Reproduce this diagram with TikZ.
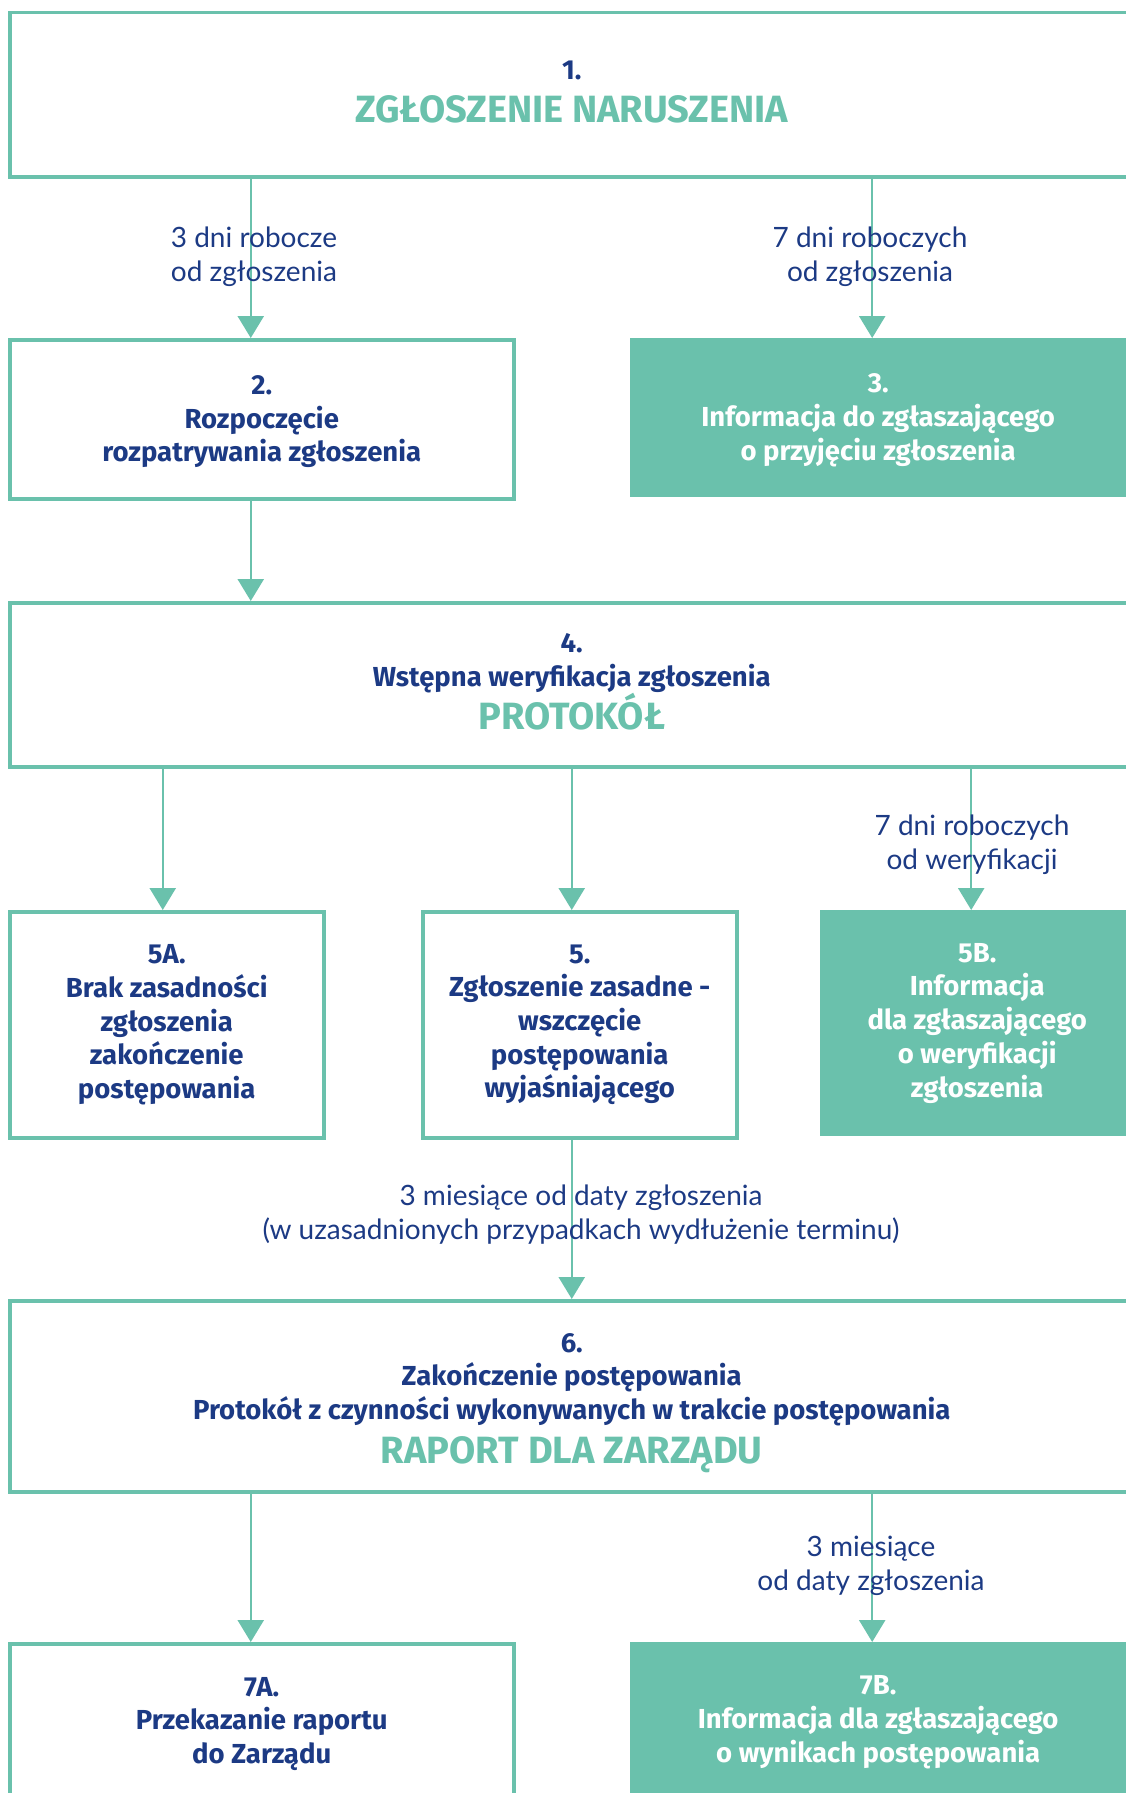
\documentclass[tikz,border=0pt]{standalone}
\usepackage{fontspec}
\setmainfont{Fira Sans}
\newfontfamily\lightf{Lato}
\usetikzlibrary{arrows.meta}
\definecolor{teal1}{HTML}{6AC1AC}
\definecolor{navy}{HTML}{1C3A84}
\newcommand{\nolsk}{\lineskiplimit=-100pt\relax}
\tikzset{
  boxbase/.style={anchor=north west,inner sep=0pt,align=center,
    font={\bfseries\fontsize{27.5}{33.7}\selectfont\nolsk}},
  outline/.style={boxbase,draw=teal1,line width=3.5pt,text=navy},
  filled/.style={boxbase,fill=teal1,text=white},
  arr/.style={draw=teal1,line width=2.5pt,-{Triangle[width=26pt,length=22pt]}},
  lbl/.style={text=navy,font=\lightf\fontsize{28}{34}\selectfont,align=center,inner sep=0pt}
}
\newcommand{\bigtitle}[1]{{\color{teal1}\fontsize{38}{40}\selectfont #1}}
\begin{document}
\begin{tikzpicture}[x=1pt,y=-1pt]
\useasboundingbox (0,0) rectangle (1126,1793);
\clip (0,0) rectangle (1126,1793);
% boxes
\node[outline,minimum width=1124pt,minimum height=164pt] (n1) at (8,11)
  {1.\\[10pt]\bigtitle{ZGŁOSZENIE NARUSZENIA}\rule[-6pt]{0pt}{0pt}};
\node[outline,minimum width=504pt,minimum height=159pt] (n2) at (8,338)
  {\rule{0pt}{24pt}2.\\Rozpoczęcie\\rozpatrywania zgłoszenia};
\node[filled,minimum width=496pt,minimum height=159pt] (n3) at (630,338)
  {\rule{0pt}{24pt}3.\\Informacja do zgłaszającego\\o przyjęciu zgłoszenia};
\node[outline,minimum width=1124pt,minimum height=164pt] (n4) at (8,601)
  {4.\\Wstępna weryfikacja zgłoszenia\\[10pt]\bigtitle{PROTOKÓŁ}\rule[-6pt]{0pt}{0pt}};
\node[outline,minimum width=314pt,minimum height=226pt] (n5a) at (8,910)
  {5A.\\Brak zasadności\\zgłoszenia\\zakończenie\\postępowania};
\node[outline,minimum width=314pt,minimum height=226pt] (n5) at (421,910)
  {5.\\Zgłoszenie zasadne -\\wszczęcie\\postępowania\\wyjaśniającego};
\node[filled,minimum width=314pt,minimum height=226pt] (n5b) at (820,910)
  {5B.\\Informacja\\dla zgłaszającego\\o weryfikacji\\zgłoszenia};
\node[outline,minimum width=1124pt,minimum height=191pt] (n6) at (8,1299)
  {\rule{0pt}{32pt}6.\\Zakończenie postępowania\\Protokół z czynności wykonywanych w trakcie postępowania\\[10pt]\bigtitle{RAPORT DLA ZARZĄDU}};
\node[outline,minimum width=504pt,minimum height=160pt] (n7a) at (8,1642)
  {7A.\\Przekazanie raportu\\do Zarządu};
\node[filled,minimum width=496pt,minimum height=160pt] (n7b) at (630,1642)
  {7B.\\Informacja dla zgłaszającego\\o wynikach postępowania};
% arrows
\draw[arr] ([xshift=-11pt]n2.north |- n1.south) -- ([xshift=-11pt]n2.north);
\draw[arr] ([xshift=-6pt]n3.north |- n1.south) -- ([xshift=-6pt]n3.north);
\draw[arr] ([xshift=-11pt]n2.south) -- ([xshift=-11pt]n2.south |- n4.north);
\draw[arr] ([xshift=-4pt]n5a.north |- n4.south) -- ([xshift=-4pt]n5a.north);
\draw[arr] ([xshift=-8pt]n5.north |- n4.south) -- ([xshift=-8pt]n5.north);
\draw[arr] ([xshift=-6pt]n5b.north |- n4.south) -- ([xshift=-6pt]n5b.north);
\draw[arr] ([xshift=-8pt]n5.south) -- ([xshift=-8pt]n5.south |- n6.north);
\draw[arr] ([xshift=-11pt]n7a.north |- n6.south) -- ([xshift=-11pt]n7a.north);
\draw[arr] ([xshift=-6pt]n7b.north |- n6.south) -- ([xshift=-6pt]n7b.north);
% labels
\node[lbl] (l1) at (254,256.5) {3 dni robocze\\od zgłoszenia};
\node[lbl] (l2) at (870,256.5) {7 dni roboczych\\od zgłoszenia};
\node[lbl] (l3) at (972,845) {7 dni roboczych\\od weryfikacji};
\node[lbl] (l4) at (581,1214.5) {3 miesiące od daty zgłoszenia\\(w uzasadnionych przypadkach wydłużenie terminu)};
\node[lbl] (l5) at (871,1565.5) {3 miesiące\\od daty zgłoszenia};
\end{tikzpicture}
\end{document}
